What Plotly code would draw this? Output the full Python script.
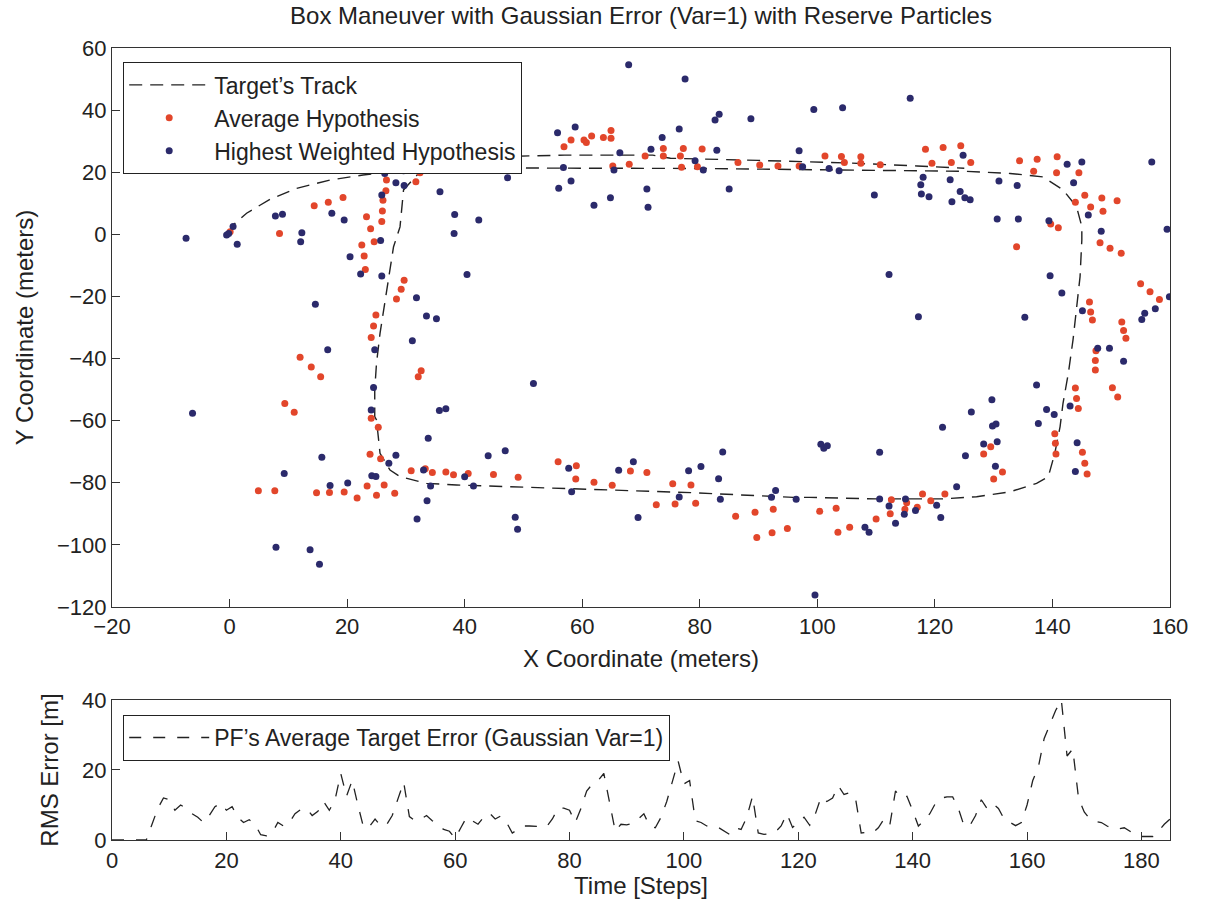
import plotly.graph_objects as go

# ---- Target track (x, y in meters) ----
track_x = [0, 0.6, 2.9, 6.9, 11.4, 17.1, 22.7, 27.9, 33.5, 40, 60, 80, 100, 110, 125, 132.8,
           138.4, 141.8, 144.1, 145, 145, 144.7, 144.1, 143.5, 142.7, 141.8, 141.3, 140.4, 139.3,
           137.3, 132.8, 127.1, 121.4, 110.1, 98.7, 95.9, 78.9, 67.6, 56.2, 42, 38.6, 33.5, 29,
           27.3, 25.6, 25, 24.7, 24.7, 25, 25.6, 26.4, 27, 27.9, 29, 29.6, 33.2, 38, 45, 57, 72,
           75, 90, 105, 117, 125]
track_y = [0, 3, 6.8, 11.3, 14.8, 17.5, 19.1, 20.2, 21.2, 21.4, 21.4, 21.2, 20.8, 20.6, 20.3, 19.6,
           18.5, 14.3, 8.9, 2.5, -1.8, -13.6, -24.4, -34, -44.8, -54.4, -61.9, -70.5, -78,
           -80.2, -82.9, -84.5, -85.2, -85.2, -84.7, -84.7, -83.2, -82.5, -81.9, -80.9, -80.7, -80.2, -78,
           -75.9, -70.5, -59.8, -58.7, -50.1, -41.5, -31.9, -22.2, -13.6, -4, 2.4, 14.3, 21.8, 23.4, 25, 25.5, 25.5,
           24.5, 23.8, 23, 22, 21.3]

# ---- Average hypothesis estimates (x, y) ----
avg_hyp = [
    (23.3, 23.4), (26.6, 23.4), (26.6, 20.9), (26.7, 17.5), (31.7, 16.9), (32.4, 19.8), (26.6, 14),
    (26.1, 11), (14.4, 9.2), (16.8, 10.3), (19.3, 11.9), (23.3, 5.7), (26, 7.5), (25.9, 4.1), (24, 1.8),
    (0.1, 0.8), (8.5, 0.3), (22.5, -3.4), (22.9, -7), (24.6, -2.4), (23.1, -11.3), (29.7, -14.8),
    (29.2, -17.7), (28.4, -20.8), (24.9, -26), (24.5, -29.5), (24.1, -33.2), (12, -39.6), (13.9, -42.7),
    (15.5, -45.9), (32.6, -43.9), (32.1, -45.9), (9.4, -54.5), (11, -57.3), (24.1, -59.2), (25.3, -62.1),
    (23.9, -70.8), (25.7, -72.3), (30.9, -76.1), (33.3, -75.5), (34.5, -76.7), (36.8, -76.5), (38.1, -77.4),
    (40.6, -77), (4.9, -82.6), (7.7, -82.6), (14.8, -83.2), (17, -83.1), (19.5, -83), (21.7, -84.9),
    (23.4, -81), (25, -84), (26.3, -80.7), (28.1, -83.4),
    (56.9, 28.2), (58.1, 30.4), (60.3, 30.4), (60.7, 29.6), (61.6, 31.7), (63.6, 31.2), (64.9, 33.4),
    (64.9, 30.9), (70.7, 25.2), (73.8, 27.6), (73.8, 25.2), (77.2, 27.6), (76.7, 25.2), (80.4, 27.5),
    (39.8, 23.4), (65.2, 22), (68, 22.6), (76.9, 21.6), (79.6, 21.8), (86.5, 23.1), (90.2, 22.3),
    (93.3, 22), (96.9, 22),
    (101.3, 25.2), (104.1, 25.1), (107.4, 25), (104.6, 23.1), (107.4, 22.9), (110.7, 22.4), (118.4, 27.4),
    (121.4, 28), (124.4, 28.5), (119.5, 22.9), (122.8, 23.1), (126.1, 23.1), (134.4, 23.7), (137.4, 24.2),
    (140.8, 25), (136.8, 20.3), (140.7, 19.8), (144.5, 19.8), (145.5, 12.6), (148.4, 11.7), (151, 10.8),
    (143.9, 10.3), (146.5, 8.8), (148.6, 7.4), (139.7, 3.3), (141, 2.1),
    (133.9, -4), (148.1, -2.7), (149.8, -4.5), (151.7, -6.1), (155, -15.9), (156.6, -18.5), (158.2, -21),
    (146.3, -21.8), (146.5, -25), (146.8, -27.6), (151.8, -28.2), (152.1, -31), (152.5, -33.5),
    (147.4, -37.5), (147.3, -40.6), (147.3, -43.7), (143.9, -49.5), (144.1, -52.9), (144.4, -56.1),
    (150.2, -49.4), (151.1, -52.4),
    (129.5, -68.4), (128.3, -70.7), (131.5, -76.5), (130, -78.8), (140.4, -64.2), (140.5, -67.3),
    (140.6, -70.7), (145.1, -70.2), (145.5, -73.7), (145.9, -77.2), (100.4, -89.2), (103.2, -88.2),
    (103.5, -95.9), (105.5, -94.3), (110, -91.7), (112.6, -85.5), (112.4, -90), (115.2, -86.4),
    (114.9, -88.5), (117, -87.9), (117.9, -83.6), (119.3, -85.8), (121.7, -83.6),
    (44.9, -77.3), (49.1, -78.2), (55.9, -73.2), (59, -74.5), (58.9, -78.8), (62, -79.8), (65.1, -80.8),
    (68.2, -76.2), (71, -76.7), (72.6, -87.1), (75.4, -80.3), (75.8, -86.8), (78.5, -80.7), (79.3, -86.6),
    (86.1, -90.8), (89.4, -89.5), (89.7, -97.6), (92.5, -88.5), (92.3, -96.1), (94.9, -94.7),
]

# ---- Highest weighted hypothesis estimates (x, y) ----
best_hyp = [
    (3.9, 22.3), (26.4, 19.6), (29.6, 20.5), (28.3, 16.6), (29.7, 15.7), (33.2, 22.3), (25.9, 12.7),
    (35.8, 13.7), (7.8, 5.9), (9, 6.5), (17.4, 6.8), (19.5, 4.6), (38.3, 6.4), (38.2, 0.3), (-0.5, -0.2),
    (-0.15, 0.3), (0.6, 2.5), (-7.4, -1.3), (12.3, 0.5),
    (1.3, -3.2), (12.1, -2.4), (20.5, -7.2), (25.7, -2), (22.3, -12.8), (25.9, -13.4), (31.8, -20.4),
    (40.4, -12.9), (14.6, -22.5), (33.5, -26.3), (35.2, -27.2), (24.7, -37.2), (31.1, -34.3),
    (16.7, -37.2), (24.5, -49.3), (-6.3, -57.6), (24.1, -56.6), (35.7, -56.7), (36.8, -56.2),
    (33.8, -65.7), (15.7, -71.8), (28.3, -71.1), (27.1, -73.7), (9.3, -77), (24.2, -77.7), (24.9, -78),
    (33, -75.9), (40, -78.1), (34.2, -81), (33.6, -85.8), (31.9, -91.7), (7.9, -100.8), (13.7, -101.6),
    (15.3, -106.2), (17.1, -80.9), (20.1, -80.1),
    (67.9, 54.6), (77.5, 50), (99.4, 40.2), (88.7, 37.2), (82.6, 36.8), (83.3, 38.7), (55.8, 32.7),
    (58.8, 34.6), (76.5, 33.9), (73.6, 31.2), (71.7, 27.4), (82.9, 27.1), (96.9, 26.9), (66.4, 26.3),
    (79.2, 23.7), (56.8, 21.5), (65.4, 20.7), (80.6, 20.7), (97.5, 21.8), (47.3, 18.2), (56, 14.8),
    (58.1, 17.2), (62, 9.4), (64.8, 11.8), (71, 14.6), (71.2, 8.7), (85, 14.6), (42.4, 4.6),
    (104.3, 40.8), (115.8, 43.8), (102, 21.2), (103.7, 20.5), (109.7, 12.7), (124.8, 25.5), (118, 18.4),
    (122.6, 17.6), (117.6, 16), (117.7, 13), (119, 12.1), (124.3, 13.8), (125.1, 11.8), (126, 11.1),
    (122.9, 10.5), (130.9, 17.2), (134, 15.7), (142.5, 22.6), (145, 23.3), (143.6, 16.6), (156.9, 23.3),
    (146.1, 6.2), (130.6, 4.9), (134.2, 4.9), (139.4, 4.4), (148.3, 1), (159.5, 1.6),
    (112.2, -12.9), (139.6, -13.3), (141.6, -18.9), (159.9, -20.1), (157.5, -24), (155.7, -25.4),
    (155.2, -27.4), (145.1, -24.6), (117.2, -26.5), (135.3, -26.7), (147.7, -36.7), (149.7, -36.7),
    (152.1, -40.9), (137.3, -48.5), (129.7, -53.3), (126.2, -57.2), (139, -56.4), (140.3, -58),
    (143, -55.3), (137.6, -60.9), (121.3, -62.1), (129.8, -61.7), (130.4, -61.1),
    (100.6, -67.6), (101.1, -68.9), (101.7, -68.1), (110.6, -70.2), (125.2, -71.3), (128.3, -67.5),
    (130.6, -66.8), (130.3, -74.7), (144.2, -67.1), (143.9, -76.4), (123.7, -81.3), (108.1, -94.3),
    (108.8, -95.9), (110.6, -85.2), (112.2, -87.5), (113.3, -93), (115, -85.2), (114.8, -90.1),
    (116.7, -88.9), (120.3, -87.2), (121, -91.2), (99.6, -116.1),
    (41.5, -81), (44, -71.3), (46.9, -69.7), (48.6, -91.1), (49, -95), (57.7, -75.3), (58.2, -82.9),
    (66.2, -76), (68.7, -73.2), (69.5, -91.2), (76.5, -84.6), (78.1, -76.1), (80.2, -74.8), (83.9, -70.1),
    (83.2, -78.7), (83.5, -85.3), (92.2, -84.7), (92.9, -82.5), (96.4, -85.3), (51.7, -48),
]

# ---- RMS error per time step ----
rms_error = [
    0, 0, 0, 0, 0, 0, 0, 4.5, 9, 12, 11.5, 8.5, 10, 9, 7.5, 6.5, 5, 7, 9.5, 10.5,
    8.5, 9.5, 6.5, 5, 5.8, 4.5, 1.5, 1.2, 2, 5, 4, 5, 7.5, 8.7, 9, 7, 8.2, 11, 8.5, 11.5,
    19, 12.5, 17, 10, 3.5, 3.8, 6, 4, 4.3, 7, 12, 16.5, 6.7, 5.5, 6, 7, 5.5, 4.3, 3, 2.5,
    0.5, 3.5, 6.5, 5.5, 4.5, 6.5, 7.7, 6, 6.9, 5, 2, 3, 4, 4, 3.8, 3.8, 3.8, 6, 9.1, 9.1,
    8.5, 5, 9, 14, 16, 17, 19, 11, 2.5, 4.5, 4.3, 4.8, 6, 7.5, 4, 3.5, 6.5, 11, 17, 22.5,
    16, 17, 5.5, 5, 4, 3.6, 3.6, 2.5, 1.6, 3.5, 3, 6.5, 12.5, 2, 1.6, 1.8, 2.3, 4, 7.5, 3.6,
    5, 6.5, 4.2, 7.5, 12.3, 11, 12, 15.5, 13, 13.5, 12, 2, 2.2, 2, 3.5, 6, 4.2, 14, 12, 12.5,
    8.4, 4, 5.5, 7.5, 10.5, 12, 12.3, 12.3, 9, 4, 4.1, 7, 11.5, 9, 10.4, 9, 6, 5, 4.1, 5,
    10, 17, 21, 29, 33, 37, 40, 24, 26, 12, 8, 6, 5.3, 5, 4, 3.2, 3.2, 3.5, 2.5, 1.2,
    1, 0.9, 1, 2.5, 4.5, 6,
]
time_steps = list(range(len(rms_error)))

x_ticks = list(range(-20, 161, 20))
y_ticks = list(range(-120, 61, 20))
t_ticks = list(range(0, 181, 20))
e_ticks = [0, 20, 40]

RED = "#e2462b"
BLUE = "#2b2a6b"
FONT = "Liberation Sans, Arial, Helvetica, sans-serif"
AX = "#333333"
TXT = "#222222"

fig = go.Figure()

fig.add_trace(go.Scatter(
    x=track_x, y=track_y, mode="lines", name="Target\u2019s Track",
    line=dict(color=TXT, width=1.4, dash="13px,8px"),
    xaxis="x", yaxis="y", legend="legend",
))
fig.add_trace(go.Scatter(
    x=[p[0] for p in avg_hyp], y=[p[1] for p in avg_hyp], mode="markers",
    name="Average Hypothesis", marker=dict(color=RED, size=7),
    xaxis="x", yaxis="y", legend="legend",
))
fig.add_trace(go.Scatter(
    x=[p[0] for p in best_hyp], y=[p[1] for p in best_hyp], mode="markers",
    name="Highest Weighted Hypothesis", marker=dict(color=BLUE, size=7),
    xaxis="x", yaxis="y", legend="legend",
))
fig.add_trace(go.Scatter(
    x=time_steps, y=rms_error, mode="lines",
    name="PF\u2019s Average Target Error (Gaussian Var=1)",
    line=dict(color=TXT, width=1.3, dash="12px,12px"),
    xaxis="x2", yaxis="y2", legend="legend2",
))

axis_common = dict(
    showline=True, mirror=True, linecolor=AX, linewidth=1.2,
    ticks="inside", ticklen=8, tickcolor=AX, tickwidth=1.2,
    showgrid=False, zeroline=False,
    tickfont=dict(family=FONT, size=22, color=TXT),
    title_font=dict(family=FONT, size=24, color=TXT),
)

fig.update_layout(
    width=1207, height=909,
    margin=dict(l=112, r=37, t=48, b=69),
    paper_bgcolor="white", plot_bgcolor="white",
    font=dict(family=FONT, color=TXT),
    title=dict(
        text="Box Maneuver with Gaussian Error (Var=1) with Reserve Particles",
        x=0.5, xref="paper", y=0.992, yref="container", yanchor="top",
        font=dict(family=FONT, size=24, color=TXT),
    ),
    xaxis=dict(axis_common, domain=[0, 1], range=[-20, 160], tickvals=x_ticks,
               anchor="y", title=dict(text="X Coordinate (meters)", standoff=11)),
    yaxis=dict(axis_common, domain=[0.2942, 1], range=[-120, 60], tickvals=y_ticks,
               anchor="x", title=dict(text="Y Coordinate (meters)", standoff=16)),
    xaxis2=dict(axis_common, domain=[0, 1], range=[0, 185], tickvals=t_ticks,
                anchor="y2", title=dict(text="Time [Steps]", standoff=5)),
    yaxis2=dict(axis_common, domain=[0, 0.1768], range=[0, 40], tickvals=e_ticks,
                anchor="x2", title=dict(text="RMS Error [m]", standoff=16)),
    legend=dict(
        x=0.0104, y=0.982, xanchor="left", yanchor="top",
        bgcolor="white", bordercolor=TXT, borderwidth=1.2,
        font=dict(family=FONT, size=23, color=TXT),
        tracegroupgap=0, itemwidth=80,
    ),
    legend2=dict(
        x=0.0104, y=0.158, xanchor="left", yanchor="top",
        bgcolor="white", bordercolor=TXT, borderwidth=1.2,
        font=dict(family=FONT, size=23, color=TXT),
        itemwidth=80,
    ),
)

fig.write_html("out.html")
